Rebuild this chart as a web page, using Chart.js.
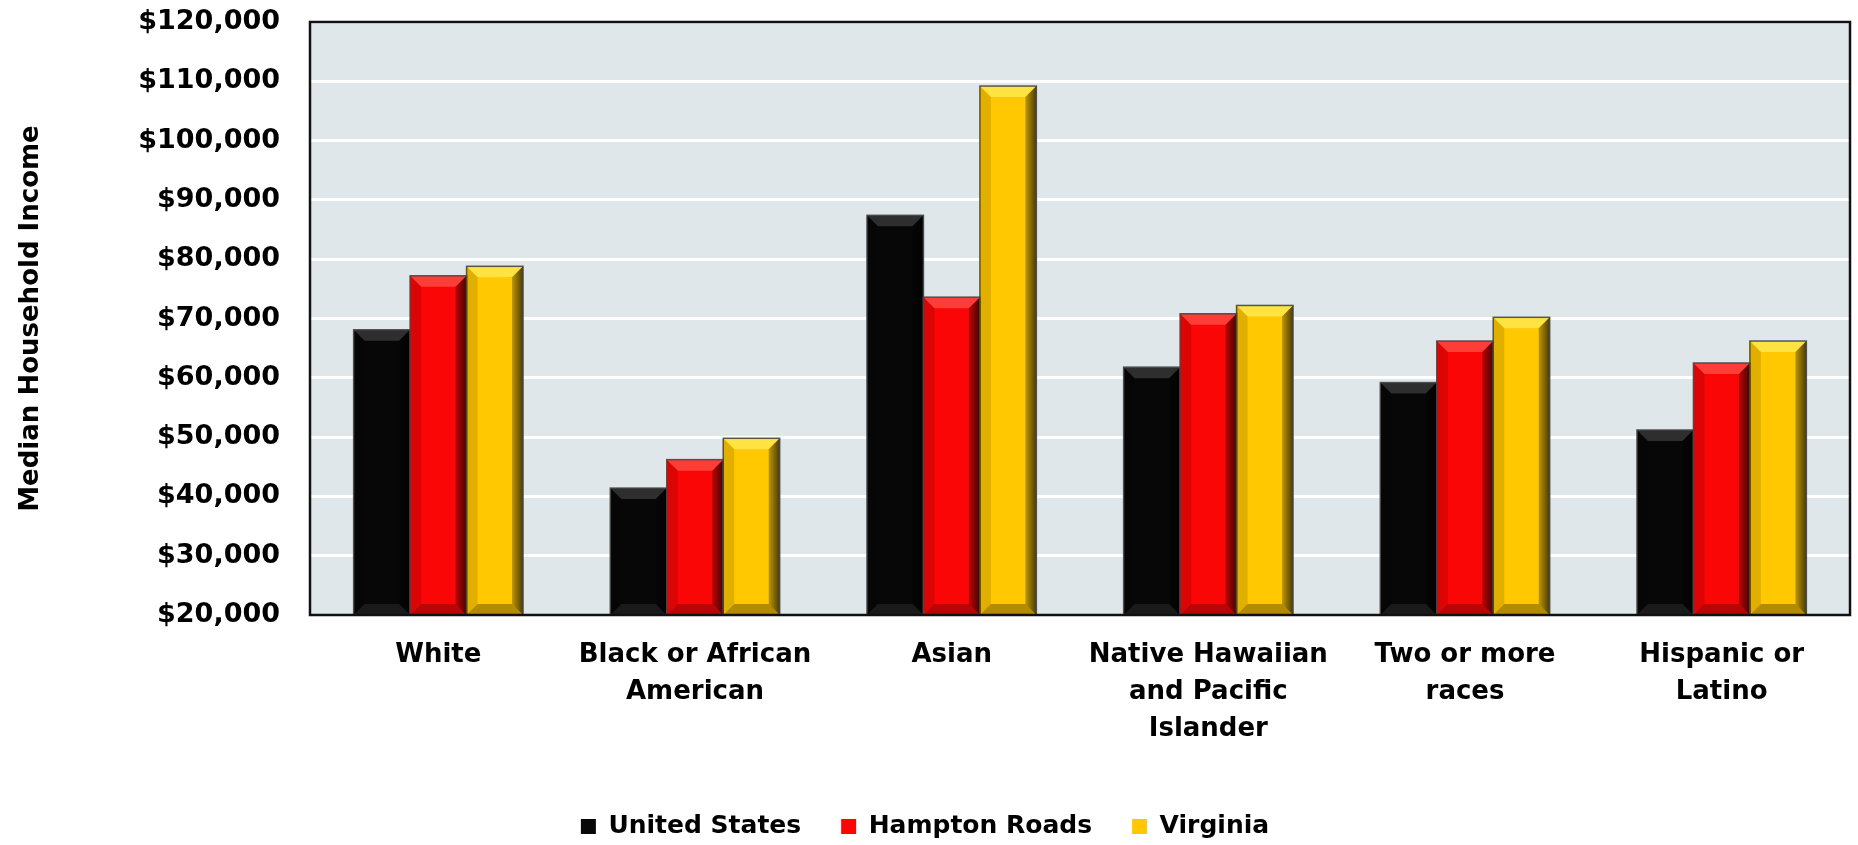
<!DOCTYPE html>
<html>
<head>
<meta charset="utf-8">
<script src="https://cdn.jsdelivr.net/npm/chart.js@4.4.1/dist/chart.umd.min.js"></script>
<style>
  html, body { margin: 0; padding: 0; background: #fff; }
  #wrap { width: 1858px; height: 845px; }
</style>
</head>
<body>
<div id="wrap"><canvas id="incomeChart"></canvas></div>
<script>
// median household income by race / ethnicity
const groups = [
  ["White"],
  ["Black or African", "American"],
  ["Asian"],
  ["Native Hawaiian", "and Pacific", "Islander"],
  ["Two or more", "races"],
  ["Hispanic or", "Latino"]
];
const unitedStates = [68100, 41400, 87400, 61800, 59200, 51200];
const hamptonRoads = [77200, 46200, 73600, 70800, 66200, 62500];
const virginia     = [78800, 49800, 109200, 72200, 70200, 66200];
const yTicks = [20000, 30000, 40000, 50000, 60000, 70000, 80000, 90000, 100000, 110000, 120000];

const FONT = "DejaVu Sans";

// plot background + frame
const plotFrame = {
  id: "plotFrame",
  beforeDraw(chart) {
    const { ctx, chartArea: a } = chart;
    ctx.save();
    ctx.fillStyle = "#e0e7ea";
    ctx.fillRect(a.left, a.top, a.right - a.left, a.bottom - a.top);
    ctx.restore();
  },
  afterDraw(chart) {
    const { ctx, chartArea: a } = chart;
    ctx.save();
    ctx.strokeStyle = "#111";
    ctx.lineWidth = 2.5;
    ctx.strokeRect(a.left, a.top, a.right - a.left, a.bottom - a.top);
    ctx.restore();
  }
};

// bevelled edges on each bar
const bevel = {
  id: "bevel",
  afterDatasetsDraw(chart) {
    const ctx = chart.ctx;
    const floor = chart.chartArea.bottom;
    chart.data.datasets.forEach((ds, i) => {
      const meta = chart.getDatasetMeta(i);
      meta.data.forEach(bar => {
        const l = bar.x - bar.width / 2, r = bar.x + bar.width / 2;
        const t = bar.y, btm = Math.min(bar.base, floor);
        const b = 11;
        ctx.save();
        // top facet
        ctx.fillStyle = ds.bevelTop;
        ctx.beginPath();
        ctx.moveTo(l, t); ctx.lineTo(r, t); ctx.lineTo(r - b, t + b); ctx.lineTo(l + b, t + b);
        ctx.closePath(); ctx.fill();
        // left facet
        ctx.fillStyle = "rgba(0,0,0,0.12)";
        ctx.beginPath();
        ctx.moveTo(l, t); ctx.lineTo(l + b, t + b); ctx.lineTo(l + b, btm - b); ctx.lineTo(l, btm);
        ctx.closePath(); ctx.fill();
        // right facet
        const g = ctx.createLinearGradient(r - b, 0, r, 0);
        g.addColorStop(0, "rgba(0,0,0,0.25)");
        g.addColorStop(1, "rgba(0,0,0,0.7)");
        ctx.fillStyle = g;
        ctx.beginPath();
        ctx.moveTo(r, t); ctx.lineTo(r, btm); ctx.lineTo(r - b, btm - b); ctx.lineTo(r - b, t + b);
        ctx.closePath(); ctx.fill();
        // bottom facet
        ctx.fillStyle = ds.bevelBottom;
        ctx.beginPath();
        ctx.moveTo(l, btm); ctx.lineTo(l + b, btm - b); ctx.lineTo(r - b, btm - b); ctx.lineTo(r, btm);
        ctx.closePath(); ctx.fill();
        // outline
        ctx.strokeStyle = "rgba(70,70,70,0.9)";
        ctx.lineWidth = 1.5;
        ctx.strokeRect(l, t, r - l, btm - t);
        ctx.restore();
      });
    });
  }
};

new Chart(document.getElementById("incomeChart"), {
  type: "bar",
  data: {
    labels: groups,
    datasets: [
      { label: "United States", data: unitedStates, backgroundColor: "#070707",
        bevelTop: "rgba(255,255,255,0.16)", bevelBottom: "rgba(255,255,255,0.08)" },
      { label: "Hampton Roads", data: hamptonRoads, backgroundColor: "#fa0606",
        bevelTop: "rgba(255,170,150,0.35)", bevelBottom: "rgba(0,0,0,0.25)" },
      { label: "Virginia", data: virginia, backgroundColor: "#ffc800",
        bevelTop: "rgba(255,250,120,0.55)", bevelBottom: "rgba(0,0,0,0.3)" }
    ]
  },
  options: {
    responsive: true,
    maintainAspectRatio: false,
    animation: false,
    layout: { padding: { top: 22, right: 8, left: 0, bottom: -4 } },
    datasets: { bar: { categoryPercentage: 0.66, barPercentage: 1.0, borderWidth: 0 } },
    plugins: {
      tooltip: { enabled: false },
      legend: {
        position: "bottom",
        labels: {
          color: "#000",
          font: { family: FONT, size: 25, weight: "bold" },
          boxWidth: 15, boxHeight: 15, padding: 40
        }
      }
    },
    scales: {
      x: {
        grid: { display: false, drawTicks: false },
        border: { display: false },
        ticks: {
          color: "#000", padding: 22, maxRotation: 0, autoSkip: false,
          font: { family: FONT, size: 26, weight: "bold", lineHeight: 1.42 }
        },
        afterFit(scale) { scale.height = 159; }
      },
      y: {
        min: 20000, max: 120000,
        afterBuildTicks(scale) { scale.ticks = yTicks.map(v => ({ value: v })); },
        // tick marks kept invisible; their length spaces the labels off the frame
        grid: { color: "#ffffff", lineWidth: 3, drawTicks: true, tickLength: 30, tickColor: "rgba(0,0,0,0)" },
        border: { display: false },
        ticks: {
          color: "#000", padding: 0,
          font: { family: FONT, size: 27, weight: "bold" },
          callback: v => "$" + v.toLocaleString("en-US")
        },
        title: {
          display: true, text: "Median Household Income", color: "#000",
          font: { family: FONT, size: 26, weight: "bold" }, padding: { top: 16, bottom: 0 }
        },
        afterFit(scale) { scale.width = 310; }
      }
    }
  },
  plugins: [plotFrame, bevel]
});
</script>
</body>
</html>
